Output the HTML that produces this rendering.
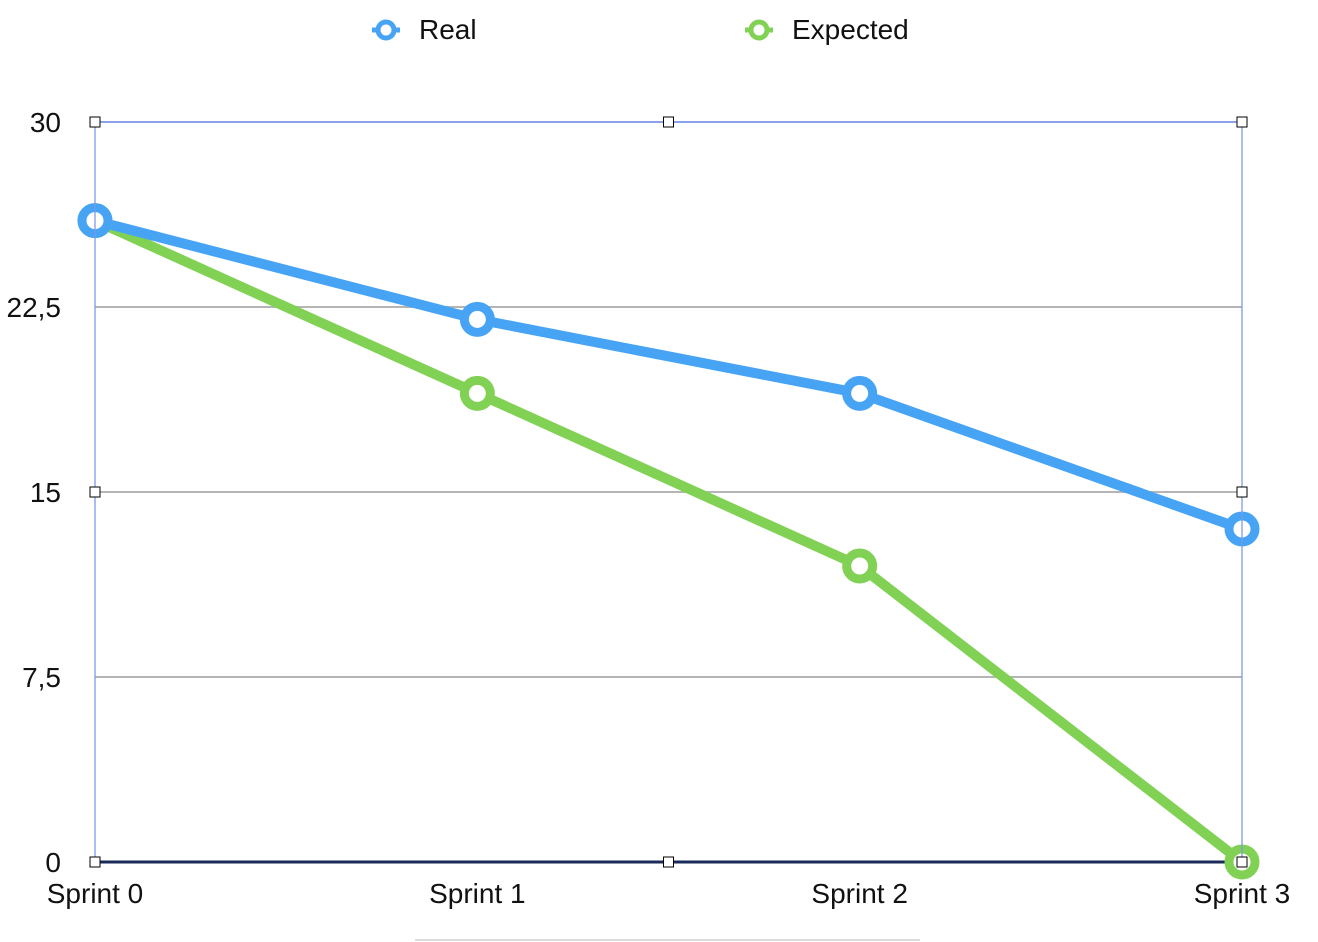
<!DOCTYPE html>
<html><head><meta charset="utf-8"><style>
html,body{margin:0;padding:0;background:#fff;}
svg{display:block;font-family:"Liberation Sans",Helvetica,Arial,sans-serif;}
</style></head><body>
<svg id="chart" width="1318" height="942" viewBox="0 0 1318 942" xmlns="http://www.w3.org/2000/svg">
<g>
  <g>
    <line x1="372" y1="30" x2="400" y2="30" stroke="#47a4f5" stroke-width="5"/>
    <circle cx="386" cy="30" r="8" fill="#fff" stroke="#47a4f5" stroke-width="5"/>
    <text x="419" y="39" font-size="28" fill="#111">Real</text>
  </g>
  <g>
    <line x1="745" y1="30" x2="773" y2="30" stroke="#80d154" stroke-width="5"/>
    <circle cx="759" cy="30" r="8" fill="#fff" stroke="#80d154" stroke-width="5"/>
    <text x="792" y="39" font-size="28" fill="#111">Expected</text>
  </g>
</g>
<g id="grid"></g>
<g id="yticks"></g>
<g id="xticks"></g>
<g id="series"></g>
<g id="frame"></g>
<line x1="415" y1="940" x2="920" y2="940" stroke="#ddd" stroke-width="2"/>
</svg>
<script>
const categories = ["Sprint 0","Sprint 1","Sprint 2","Sprint 3"];
const realValues = [26, 22, 19, 13.5];
const expectedValues = [26, 19, 12, 0];
const yTicks = [0, 7.5, 15, 22.5, 30];
const yTickLabels = ["0","7,5","15","22,5","30"];

const NS = "http://www.w3.org/2000/svg";
const X0 = 95, X1 = 1242, Y0 = 862, Y1 = 122, YMAX = 30;
function xPos(i){ return X0 + (X1 - X0) * i / (categories.length - 1); }
function yPos(v){ return Y0 - (Y0 - Y1) * v / YMAX; }
function mk(tag, attrs, parent){
  const e = document.createElementNS(NS, tag);
  for (const k in attrs) e.setAttribute(k, attrs[k]);
  parent.appendChild(e);
  return e;
}
const grid = document.getElementById('grid');
const yt = document.getElementById('yticks');
yTicks.forEach((v, i) => {
  const y = yPos(v);
  const color = v === 0 ? "#1a2a5a" : (v === YMAX ? "#8aa0e8" : "#b5b5b5");
  const ln = mk('line', {x1: X0, x2: X1, y1: y, y2: y, stroke: color, 'stroke-width': v === 0 ? 3 : 2}, grid);
  
  
  const t = mk('text', {x: 61, y: y + 10, 'font-size': 28, 'text-anchor': 'end', fill: '#111'}, yt);
  t.textContent = yTickLabels[i];
  
  
});
const xt = document.getElementById('xticks');
categories.forEach((c, i) => {
  const t = mk('text', {x: xPos(i), y: 903, 'font-size': 28, 'text-anchor': 'middle', fill: '#111'}, xt);
  t.textContent = c;
  
  
});
const ser = document.getElementById('series');
function drawSeries(vals, color, name){
  const pts = vals.map((v, i) => xPos(i) + ',' + yPos(v)).join(' ');
  const pl = mk('polyline', {points: pts, fill: 'none', stroke: color, 'stroke-width': 10, 'stroke-linejoin': 'round'}, ser);
  
  
}
function drawMarkers(vals, color, name){
  vals.forEach((v, i) => {
    const c = mk('circle', {cx: xPos(i), cy: yPos(v), r: 13, fill: '#fff', stroke: color, 'stroke-width': 9}, ser);
    
    
  });
}
drawSeries(expectedValues, '#80d154', 'expected');
drawSeries(realValues, '#47a4f5', 'real');
drawMarkers(expectedValues, '#80d154', 'expected');
drawMarkers(realValues, '#47a4f5', 'real');
const fr = document.getElementById('frame');
[X0, X1].forEach(x => {
  const l = mk('line', {x1: x, x2: x, y1: Y1, y2: Y0, stroke: '#7d98ee', 'stroke-width': 1.5, 'stroke-opacity': 0.85}, fr);
  
  
});
const xm = (X0 + X1) / 2, ym = (Y0 + Y1) / 2;
[[X0,Y1],[xm,Y1],[X1,Y1],[X0,ym],[X1,ym],[X0,Y0],[xm,Y0],[X1,Y0]].forEach(p => {
  const h = mk('rect', {x: p[0] - 5, y: p[1] - 5, width: 10, height: 10, fill: '#fff', stroke: '#000', 'stroke-width': 1}, fr);
  
  
});
</script>
</body></html>
